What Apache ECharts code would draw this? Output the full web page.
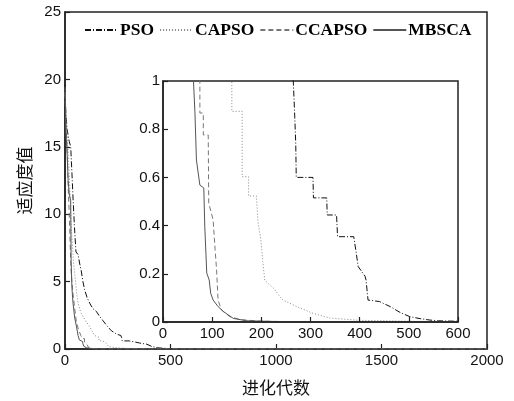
<!DOCTYPE html>
<html>
<head>
<meta charset="utf-8">
<script src="https://cdn.jsdelivr.net/npm/echarts@6/dist/echarts.min.js"></script>
<style>
  html, body { margin: 0; padding: 0; background: #fff; }
  #main { width: 514px; height: 401px; }
</style>
</head>
<body>
<div id="main"></div>
<script>
// series names
const names = ['PSO', 'CAPSO', 'CCAPSO', 'MBSCA']

// [generation, fitness] (big plot above 1, zoomed plot below 1)
const psoData = [[0, 19.6], [4, 17.5], [10, 16.3], [20, 15.4], [27, 15], [33, 13], [38, 11.2], [45, 9], [52, 7.2],
  [62, 7.0], [70, 6.3], [77, 5.8], [85, 5.0], [93, 4.4], [105, 3.8], [117, 3.4], [132, 3.0], [148, 2.8],
  [165, 2.4], [180, 2.1], [200, 1.7], [220, 1.35], [245, 1.1], [265, 1.0], [268, 0.85], [270, 0.74],
  [271, 0.6], [305, 0.6], [306, 0.515], [333, 0.515], [334, 0.444], [353, 0.444], [355, 0.354], [388, 0.354],
  [392, 0.3], [397, 0.23], [411, 0.19], [413, 0.174], [417, 0.091], [440, 0.085], [462, 0.064], [482, 0.04],
  [502, 0.022], [523, 0.014], [543, 0.008], [560, 0.005], [600, 0.003], [2000, 0]]
const capsoData = [[0, 19.3], [5, 17], [12, 15.5], [20, 13], [25, 11], [30, 9], [40, 6.5], [46, 5.6], [55, 4.2],
  [62, 3.4], [75, 2.7], [93, 2.2], [115, 1.7], [130, 1.3], [140, 1.0], [140, 0.874], [161, 0.874], [161, 0.603],
  [174, 0.603], [174, 0.523], [190, 0.523], [193, 0.42], [199, 0.34], [203, 0.25], [207, 0.174], [214, 0.16],
  [225, 0.14], [238, 0.105], [244, 0.091], [272, 0.064], [305, 0.036], [340, 0.016], [400, 0.007], [500, 0.003],
  [600, 0.001], [2000, 0]]
const ccapsoData = [[0, 19.0], [5, 16.5], [10, 15], [15, 12], [20, 10], [25, 7.5], [30, 5.5], [38, 4.1], [46, 3],
  [54, 2.0], [65, 1.4], [75, 1.0], [75, 0.867], [82, 0.867], [82, 0.776], [92, 0.776], [93, 0.494], [102, 0.423],
  [106, 0.3], [109, 0.216], [112, 0.091], [119, 0.05], [136, 0.022], [157, 0.01], [200, 0.003], [300, 0.001],
  [2000, 0]]
const mbscaData = [[0, 19.5], [5, 16], [10, 14.5], [15, 12.5], [20, 11.5], [27, 11], [29, 6.5], [33, 4.5], [38, 3.4],
  [46, 2.3], [54, 1.7], [62, 1.0], [65, 0.867], [68, 0.672], [75, 0.568], [83, 0.556], [85, 0.395], [89, 0.203],
  [94, 0.174], [97, 0.119], [102, 0.091], [112, 0.064], [123, 0.043], [143, 0.015], [170, 0.005], [250, 0.001],
  [2000, 0]]

const seriesData = [psoData, capsoData, ccapsoData, mbscaData]
const colors = ['#111', '#888', '#777', '#555']
const dashes = [[6, 2, 1, 2], [1, 2], [5, 3], 'solid']

const labelFont = {
  fontFamily: 'Liberation Sans, Arial',
  fontSize: 15,
  color: '#111',
  formatter: v => String(+(+v).toFixed(2))
}

function xAxis (gridIndex, max, interval, extra) {
  return Object.assign({
    type: 'value', gridIndex, min: 0, max, interval,
    axisLine: { show: true, onZero: false, lineStyle: { color: '#222', width: 1.5 } },
    axisTick: { show: true, inside: true, length: 5, lineStyle: { color: '#222', width: 1.2 } },
    axisLabel: Object.assign({ margin: 4 }, labelFont),
    splitLine: { show: false }
  }, extra)
}
function yAxis (gridIndex, max, interval, extra) {
  return Object.assign({
    type: 'value', gridIndex, min: 0, max, interval,
    axisLine: { show: true, onZero: false, lineStyle: { color: '#222', width: 1.5 } },
    axisTick: { show: true, inside: true, length: 5, lineStyle: { color: '#222', width: 1.2 } },
    axisLabel: Object.assign({ margin: 4 }, labelFont),
    splitLine: { show: false }
  }, extra)
}

const series = []
for (let g = 0; g < 2; g++) {
  for (let i = 0; i < names.length; i++) {
    series.push({
      name: names[i],
      type: 'line',
      xAxisIndex: g,
      yAxisIndex: g,
      symbol: 'none',
      clip: true,
      z: g === 0 ? 2 : 5,
      lineStyle: { color: colors[i], width: 1, type: dashes[i] },
      itemStyle: { color: colors[i] },
      data: seriesData[i]
    })
  }
}

const chart = echarts.init(document.getElementById('main'))
chart.setOption({
  animation: false,
  backgroundColor: '#fff',
  legend: {
    data: names,
    left: 79,
    top: 16,
    itemWidth: 33,
    itemHeight: 10,
    itemGap: 5,
    itemStyle: { opacity: 0 },
    textStyle: { fontFamily: 'Liberation Serif, Times New Roman', fontWeight: 'bold', fontSize: 17.5, color: '#000', padding: [0, 0, 0, -3] }
  },
  grid: [
    { left: 65, top: 12, width: 422, height: 345, show: true, borderColor: '#222', borderWidth: 1.5, backgroundColor: 'transparent' },
    { left: 163, top: 81, width: 295, height: 241, show: true, borderColor: '#222', borderWidth: 1.5, backgroundColor: '#fff', z: 3 }
  ],
  xAxis: [
    xAxis(0, 2000, 500, {
      name: '进化代数', nameLocation: 'middle', nameGap: 30,
      nameTextStyle: { fontFamily: 'Noto Sans CJK SC', fontSize: 17, color: '#111' }
    }),
    xAxis(1, 600, 100, { z: 6 })
  ],
  yAxis: [
    yAxis(0, 25, 5, {
      name: '适应度值', nameLocation: 'middle', nameGap: 32,
      nameTextStyle: { fontFamily: 'Noto Sans CJK SC', fontSize: 17, color: '#111' }
    }),
    yAxis(1, 1, 0.2, { z: 6, axisLabel: Object.assign({ margin: 3 }, labelFont) })
  ],
  series
})
</script>
</body>
</html>
